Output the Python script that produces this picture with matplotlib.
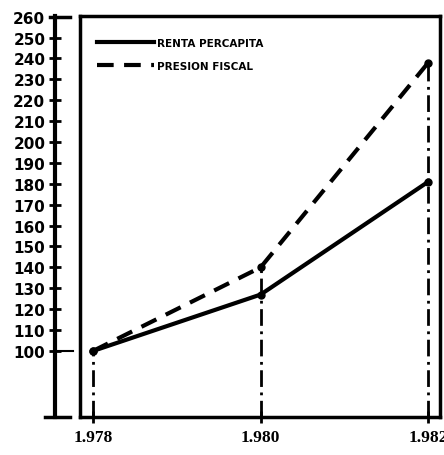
import matplotlib
matplotlib.use("Agg")
import matplotlib.pyplot as plt

# data (index, base 1978 = 100)
years = [1978, 1980, 1982]
year_labels = ["1.978", "1.980", "1.982"]
renta = [100, 127, 181]
presion = [100, 140, 238]
y_ticks = list(range(100, 261, 10))

W, H = 444, 456
fig = plt.figure(figsize=(W / 100, H / 100), dpi=100)

# main plotting box
ax = fig.add_axes([80 / W, 1 - 418 / H, 360 / W, 401 / H])
ax.set_xlim(1977.845, 1982.14)
ax.set_ylim(68.4, 260.3)
for s in ax.spines.values():
    s.set_linewidth(2.5)
ax.set_yticks([])
ax.set_xticks(years)
ax.set_xticklabels(year_labels, family="Liberation Serif", weight="bold", fontsize=12.5)
ax.tick_params(axis="x", direction="inout", length=8, width=2, pad=5)

# vertical dash-dot drop lines from the highest point at each year
for x, r, p in zip(years, renta, presion):
    ax.plot([x, x], [68.4, max(r, p)], color="black", lw=2, ls=(0, (6, 2, 1, 2)))

ax.plot(years, renta, color="black", lw=3, label="RENTA PERCAPITA")
ax.plot(years, presion, color="black", lw=3, ls=(0, (4, 2.5)), label="PRESION FISCAL")
ax.plot(years, renta, "o", color="black", ms=5)
ax.plot(years, presion, "o", color="black", ms=5)

ax.legend(loc="upper left", bbox_to_anchor=(17 / 360, 1 - 22 / 401), frameon=False,
          borderpad=0, borderaxespad=0, handlelength=5.5, handletextpad=0.3,
          labelspacing=1.2, prop={"family": "DejaVu Sans", "weight": "bold", "size": 7.5})

# separate scale axis on the left
ay = fig.add_axes([55 / W, 1 - 418 / H, 20 / W, 401 / H])
ay.set_xlim(0, 1)
ay.set_ylim(68.4, 260.3)
for k in ["top", "right", "bottom"]:
    ay.spines[k].set_visible(False)
ay.spines["left"].set_linewidth(3)
ay.set_xticks([])
ay.set_yticks(y_ticks)
ay.set_yticklabels([str(v) for v in y_ticks], weight="bold", fontsize=11)
ay.tick_params(axis="y", direction="inout", length=8, width=2, pad=3)
ay.axhline(100, xmin=0, xmax=0.9, color="black", lw=1.5)
ay.axhline(260, xmin=-0.25, xmax=0.75, color="black", lw=2.5, clip_on=False)
ay.axhline(68.4, xmin=-0.5, xmax=0.75, color="black", lw=2.5, clip_on=False)
ay.patch.set_visible(False)

fig.savefig("out.png", dpi=100)
